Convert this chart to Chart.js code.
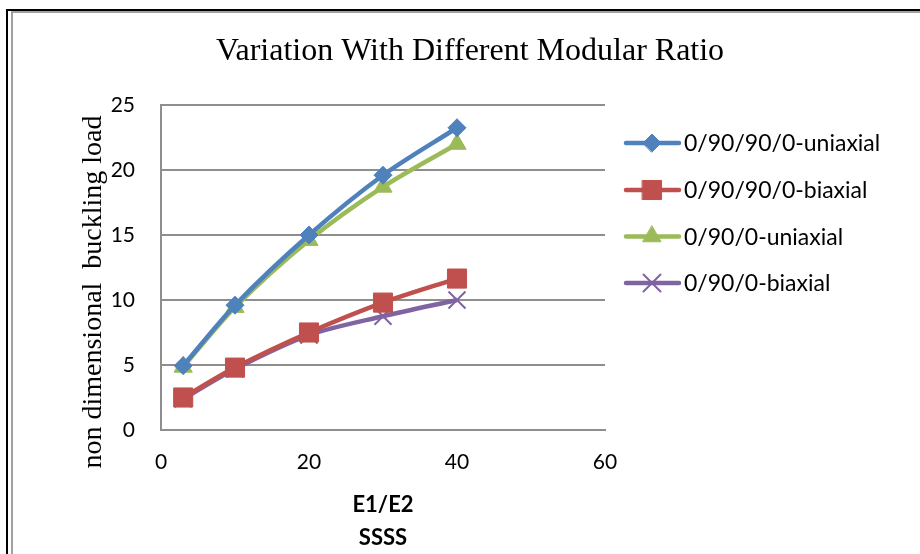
<!DOCTYPE html>
<html>
<head>
<meta charset="utf-8">
<script src="https://cdn.jsdelivr.net/npm/chart.js@4/dist/chart.umd.min.js"></script>
<style>
  html, body { margin: 0; padding: 0; background: #fff; }
</style>
</head>
<body>
<canvas id="ratioChart" width="920" height="554"></canvas>
<script>
const modularRatios = [3, 10, 20, 30, 40];

const layup4Uniaxial = [4.95, 9.6, 15.0, 19.6, 23.25];
const layup4Biaxial = [2.5, 4.8, 7.5, 9.8, 11.65];
const layup3Uniaxial = [4.85, 9.45, 14.6, 18.7, 22.0];
const layup3Biaxial = [2.4, 4.7, 7.3, 8.75, 10.0];

const seriesNames = [
  "0/90/90/0-uniaxial",
  "0/90/90/0-biaxial",
  "0/90/0-uniaxial",
  "0/90/0-biaxial",
];

const yTicks = [0, 5, 10, 15, 20, 25];
const xTicks = [0, 20, 40, 60];

const gridColor = "#8e8e8e";
const tickFont = { family: "Lato", size: 21 };

function toPoints(values) {
  return values.map((value, i) => ({ x: modularRatios[i], y: value }));
}

function makeSeries(name, values, color, pointStyle, radius, borderWidth) {
  return {
    label: name,
    data: toPoints(values),
    borderColor: color,
    backgroundColor: color,
    borderWidth: 4.5,
    tension: 0.3,
    pointStyle: pointStyle,
    pointRadius: radius,
    pointHoverRadius: radius,
    pointBorderWidth: borderWidth,
    pointBackgroundColor: color,
    pointBorderColor: color,
  };
}

// frame, headings and the line+marker legend
const decorPlugin = {
  id: "decor",
  beforeDraw(chart) {
    const ctx = chart.ctx;
    ctx.save();
    ctx.fillStyle = "#fff";
    ctx.fillRect(0, 0, chart.width, chart.height);
    ctx.fillStyle = "#000";
    ctx.fillRect(6, 9, 2, chart.height - 9);
    ctx.fillRect(6, 9, chart.width - 6, 2);
    ctx.fillStyle = "#a0a0a0";
    ctx.fillRect(11, 11, 2, chart.height - 11);
    ctx.fillRect(11, 11, chart.width - 11, 2);
    ctx.restore();
  },
  afterDraw(chart) {
    const ctx = chart.ctx;
    ctx.save();
    ctx.fillStyle = "#000";
    ctx.textAlign = "center";
    ctx.textBaseline = "alphabetic";
    ctx.font = '32px "Liberation Serif"';
    ctx.fillText("Variation With Different Modular Ratio", 470, 60);

    ctx.translate(101, 292);
    ctx.rotate(-Math.PI / 2);
    ctx.font = '28px "Liberation Serif"';
    ctx.fillText("non dimensional  buckling load", 0, 0);
    ctx.restore();

    const rowY = [143, 190, 236.5, 283];
    chart.data.datasets.forEach((ds, i) => {
      const y = rowY[i];
      ctx.save();
      ctx.strokeStyle = ds.borderColor;
      ctx.lineWidth = 4.5;
      ctx.lineCap = "round";
      ctx.beginPath();
      ctx.moveTo(626, y);
      ctx.lineTo(679, y);
      ctx.stroke();
      ctx.fillStyle = ds.pointBackgroundColor;
      ctx.strokeStyle = ds.pointBorderColor;
      ctx.lineWidth = ds.pointBorderWidth;
      Chart.helpers.drawPoint(ctx, {
        pointStyle: ds.pointStyle,
        radius: ds.pointRadius,
        rotation: 0,
        borderWidth: ds.pointBorderWidth,
      }, 652, y);
      ctx.fillStyle = "#000";
      ctx.textAlign = "left";
      ctx.textBaseline = "middle";
      ctx.font = '23px "Lato"';
      ctx.fillText(ds.label, 684, y + 1);
      ctx.restore();
    });
  },
};

new Chart(document.getElementById("ratioChart"), {
  type: "line",
  data: {
    datasets: [
      makeSeries(seriesNames[0], layup4Uniaxial, "#4f81bd", "rectRot", 9, 1),
      makeSeries(seriesNames[1], layup4Biaxial, "#c0504d", "rect", 13.5, 1),
      makeSeries(seriesNames[2], layup3Uniaxial, "#9bbb59", "triangle", 10.5, 1),
      makeSeries(seriesNames[3], layup3Biaxial, "#8064a2", "crossRot", 12, 2),
    ],
  },
  options: {
    responsive: false,
    devicePixelRatio: 1,
    animation: false,
    layout: { padding: { top: 105, right: 315, left: 0, bottom: 0 } },
    plugins: {
      legend: { display: false },
      title: { display: false },
      tooltip: { enabled: false },
    },
    scales: {
      x: {
        type: "linear",
        min: 0,
        max: 60,
        afterBuildTicks(scale) {
          scale.ticks = xTicks.map((v) => ({ value: v }));
        },
        afterFit(scale) {
          scale.height = 124;
        },
        ticks: { padding: 20, color: "#000", font: tickFont },
        grid: { display: false, drawTicks: false },
        border: { color: gridColor, width: 2 },
        title: {
          display: true,
          text: ["E1/E2", "SSSS"],
          color: "#000",
          font: { family: "Lato", size: 22, weight: "bold", lineHeight: 1.5 },
          padding: { top: 0, bottom: 0 },
        },
      },
      y: {
        type: "linear",
        min: 0,
        max: 25,
        afterBuildTicks(scale) {
          scale.ticks = yTicks.map((v) => ({ value: v }));
        },
        afterFit(scale) {
          scale.width = 161;
        },
        ticks: { padding: 26, color: "#000", font: tickFont },
        grid: { color: gridColor, lineWidth: 2, drawTicks: false },
        border: { color: gridColor, width: 2 },
      },
    },
  },
  plugins: [decorPlugin],
});
</script>
</body>
</html>
